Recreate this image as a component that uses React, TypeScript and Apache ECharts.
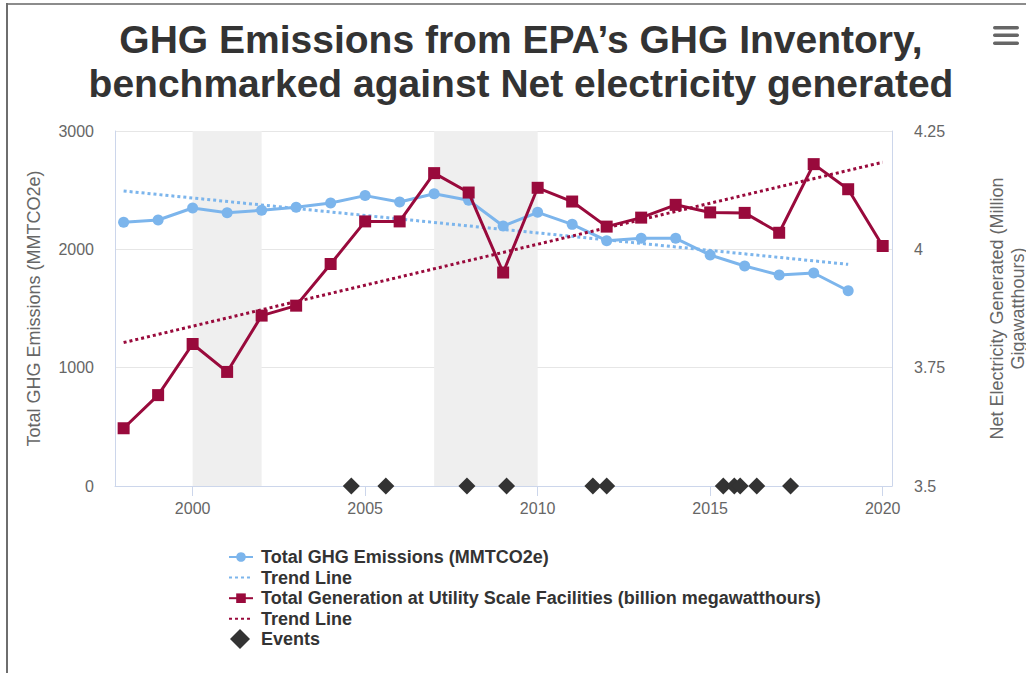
import React, { useEffect, useRef } from "react";
import * as echarts from "echarts";

const ghgYears = [1998, 1999, 2000, 2001, 2002, 2003, 2004, 2005, 2006, 2007, 2008, 2009, 2010, 2011, 2012, 2013, 2014, 2015, 2016, 2017, 2018, 2019];
const ghgValues = [2228, 2248, 2349, 2310, 2330, 2355, 2392, 2454, 2400, 2470, 2415, 2197, 2313, 2211, 2073, 2093, 2093, 1952, 1859, 1783, 1800, 1650];

const genYears = [1998, 1999, 2000, 2001, 2002, 2003, 2004, 2005, 2006, 2007, 2008, 2009, 2010, 2011, 2012, 2013, 2014, 2015, 2016, 2017, 2018, 2019, 2020];
const genValues = [3.622, 3.692, 3.8, 3.741, 3.86, 3.881, 3.969, 4.059, 4.059, 4.161, 4.12, 3.951, 4.13, 4.101, 4.048, 4.067, 4.094, 4.078, 4.077, 4.035, 4.18, 4.127, 4.007];

const ghgTrendYears = [1998, 2019];
const ghgTrendValues = [2493, 1873];
const genTrendYears = [1998, 2020];
const genTrendValues = [3.803, 4.184];

const eventYears = [2004.6, 2005.6, 2007.95, 2009.1, 2011.6, 2012.0, 2015.38, 2015.7, 2015.87, 2016.35, 2017.33];
const eventValues = [0, 0, 0, 0, 0, 0, 0, 0, 0, 0, 0];

const bandStarts = [2000, 2007];
const bandEnds = [2002, 2010];

const xTicks = [2000, 2005, 2010, 2015, 2020];

const SERIES_GHG = "Total GHG Emissions (MMTCO2e)";
const SERIES_GHG_TREND = "Trend Line";
const SERIES_GEN = "Total Generation at Utility Scale Facilities (billion megawatthours)";
const SERIES_GEN_TREND = "Trend Line ";
const SERIES_EVENTS = "Events";

const FONT = "'Liberation Sans', Arial, Helvetica, sans-serif";
const BLUE = "#7cb5ec";
const RED = "#990a3c";

export default function App() {
  const ref = useRef<HTMLDivElement>(null);

  useEffect(() => {
    if (!ref.current) return;
    const chart = echarts.init(ref.current, undefined, { renderer: "svg" });
    const pair = (xs: number[], ys: number[]) => xs.map((x, i) => [x, ys[i]]);
    const plain = (v: number) => String(v);

    const legendText = {
      fontFamily: FONT,
      fontSize: 18,
      fontWeight: "bold",
      color: "#333333",
      lineHeight: 18,
      padding: [0, 0, 0, 3],
    };

    const option: any = {
      animation: false,
      backgroundColor: "#ffffff",
      textStyle: { fontFamily: FONT },
      title: {
        text: "GHG Emissions from EPA’s GHG Inventory,\nbenchmarked against Net electricity generated",
        left: 516,
        textAlign: "center",
        top: 12,
        textStyle: {
          fontFamily: FONT,
          fontSize: 39,
          fontWeight: "bold",
          color: "#333333",
          lineHeight: 44,
        },
      },
      grid: { left: 115, right: 134, top: 131, bottom: 187, outerBoundsMode: "none", containLabel: false },
      legend: [
        {
          orient: "vertical",
          left: 223,
          top: 543,
          itemWidth: 24,
          itemHeight: 12,
          itemGap: 2.6,
          data: [
            { name: SERIES_GHG },
            { name: SERIES_GHG_TREND, itemStyle: { opacity: 0 } },
            { name: SERIES_GEN },
            { name: SERIES_GEN_TREND, itemStyle: { opacity: 0 } },
          ],
          textStyle: legendText,
        },
        {
          orient: "vertical",
          left: 225,
          top: 624,
          itemWidth: 24,
          itemHeight: 20,
          symbolKeepAspect: true,
          data: [{ name: SERIES_EVENTS, icon: "path://M8,0L16,8L8,16L0,8Z" }],
          textStyle: { ...legendText, padding: [0, 0, 0, 4] },
        },
      ],
      xAxis: {
        type: "value",
        min: 1997.75,
        max: 2020.27,
        axisLine: { show: true, lineStyle: { color: "#ccd6eb", width: 1 } },
        axisTick: { show: true, customValues: xTicks, length: 10, lineStyle: { color: "#ccd6eb" } },
        axisLabel: { customValues: xTicks, formatter: plain, fontSize: 16, color: "#666666", margin: 14, fontFamily: FONT },
        splitLine: { show: false },
      },
      yAxis: [
        {
          type: "value",
          min: 0,
          max: 3000,
          interval: 1000,
          position: "left",
          name: "Total GHG Emissions (MMTCO2e)",
          nameLocation: "middle",
          nameGap: 72,
          nameTextStyle: { fontSize: 18, color: "#666666", fontFamily: FONT },
          axisLine: { show: true, lineStyle: { color: "#ccd6eb" } },
          axisTick: { show: false },
          axisLabel: { formatter: plain, fontSize: 16, color: "#666666", margin: 21, fontFamily: FONT },
          splitLine: { show: true, lineStyle: { color: "#e6e6e6" } },
        },
        {
          type: "value",
          min: 3.5,
          max: 4.25,
          interval: 0.25,
          position: "right",
          name: "Net Electricity Generated (Million\nGigawatthours)",
          nameLocation: "middle",
          nameGap: 94,
          nameTextStyle: { fontSize: 18, color: "#666666", fontFamily: FONT, lineHeight: 21 },
          axisLine: { show: true, lineStyle: { color: "#ccd6eb" } },
          axisTick: { show: false },
          axisLabel: { formatter: plain, fontSize: 16, color: "#666666", margin: 22, fontFamily: FONT },
          splitLine: { show: false },
        },
      ],
      series: [
        {
          name: SERIES_GHG,
          type: "line",
          yAxisIndex: 0,
          data: pair(ghgYears, ghgValues),
          symbol: "circle",
          symbolSize: 11,
          color: BLUE,
          lineStyle: { width: 3, color: BLUE },
          itemStyle: { color: BLUE },
          z: 3,
          markArea: {
            silent: true,
            itemStyle: { color: "#efefef" },
            data: bandStarts.map((s, i) => [{ xAxis: s }, { xAxis: bandEnds[i] }]),
          },
        },
        {
          name: SERIES_GHG_TREND,
          type: "line",
          yAxisIndex: 0,
          data: pair(ghgTrendYears, ghgTrendValues),
          symbol: "none",
          color: BLUE,
          lineStyle: { width: 3, color: BLUE, type: [3, 3] },
          z: 3,
        },
        {
          name: SERIES_GEN,
          type: "line",
          yAxisIndex: 1,
          data: pair(genYears, genValues),
          symbol: "rect",
          symbolSize: 12,
          color: RED,
          lineStyle: { width: 3, color: RED },
          itemStyle: { color: RED },
          z: 4,
        },
        {
          name: SERIES_GEN_TREND,
          type: "line",
          yAxisIndex: 1,
          data: pair(genTrendYears, genTrendValues),
          symbol: "none",
          color: RED,
          lineStyle: { width: 3, color: RED, type: [3, 3] },
          z: 4,
        },
        {
          name: SERIES_EVENTS,
          type: "scatter",
          yAxisIndex: 0,
          data: pair(eventYears, eventValues),
          symbol: "diamond",
          symbolSize: 17,
          color: "#333333",
          itemStyle: { color: "#333333", opacity: 1 },
          z: 5,
        },
      ],
      graphic: [
        { type: "line", shape: { x1: 6, y1: 4, x2: 1026, y2: 4 }, style: { stroke: "#8c8c8c", lineWidth: 2 }, silent: true },
        { type: "line", shape: { x1: 7, y1: 3, x2: 7, y2: 673 }, style: { stroke: "#6e6e6e", lineWidth: 2 }, silent: true },
        { type: "rect", shape: { x: 993, y: 26, width: 26, height: 3.4, r: 1.7 }, style: { fill: "#666666" }, silent: true },
        { type: "rect", shape: { x: 993, y: 33.5, width: 26, height: 3.4, r: 1.7 }, style: { fill: "#666666" }, silent: true },
        { type: "rect", shape: { x: 993, y: 41.5, width: 26, height: 3.4, r: 1.7 }, style: { fill: "#666666" }, silent: true },
      ],
    };

    chart.setOption(option);
    return () => chart.dispose();
  }, []);

  return (
    <div style={{ position: "fixed", left: 0, top: 0, width: 1026, height: 673, background: "#fff" }}>
      <div ref={ref} style={{ width: 1026, height: 673 }} />
    </div>
  );
}
